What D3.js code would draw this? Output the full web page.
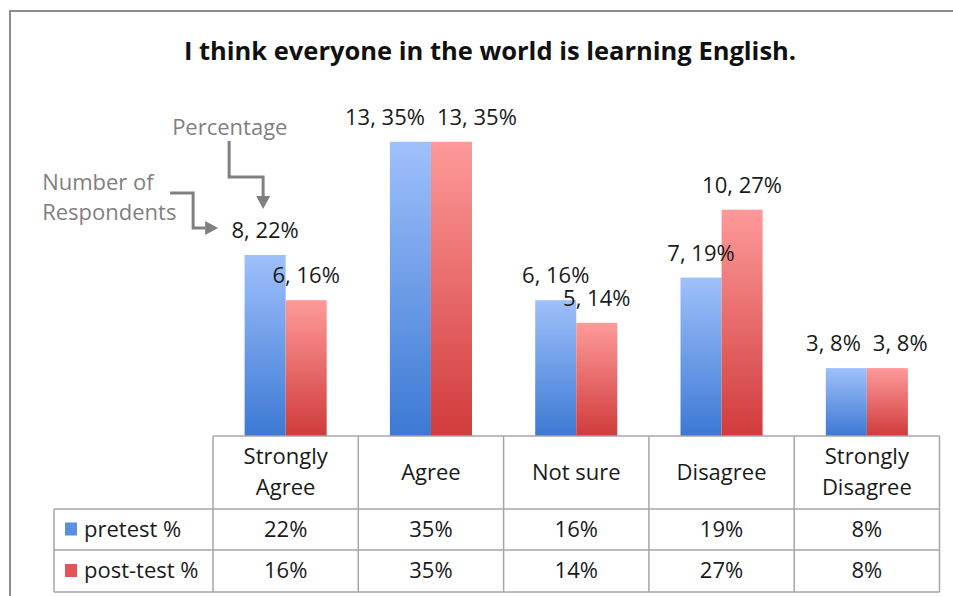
<!DOCTYPE html>
<html>
<head>
<meta charset="utf-8">
<script src="https://cdn.jsdelivr.net/npm/d3@7"></script>
<style>
  html, body { margin: 0; padding: 0; background: #fff; }
  svg { display: block; }
  text { font-family: "Open Sans", "Noto Sans", sans-serif; }
</style>
</head>
<body>
<svg id="chart" width="953" height="596"></svg>
<script>
// Survey item and response categories
const title = "I think everyone in the world is learning English.";
const categories = ["Strongly Agree", "Agree", "Not sure", "Disagree", "Strongly Disagree"];
const seriesNames = ["pretest %", "post-test %"];

// Number of respondents per category (37 respondents in total)
const totalRespondents = 37;
const pretestCounts = [8, 13, 6, 7, 3];
const posttestCounts = [6, 13, 5, 10, 3];

// Rounded percentages shown in labels and the data table
const pretestPct = [22, 35, 16, 19, 8];
const posttestPct = [16, 35, 14, 27, 8];

const svg = d3.select("#chart");
const W = 953, H = 596;

// Layout
const tableLeft = 213, tableRight = 939.5;
const legendLeft = 54;
const baseY = 436;                 // top of the data table = bar baseline
const rowLines = [436, 509, 550, 592];
const plotTop = 101;

const x = d3.scaleBand().domain(categories).range([tableLeft, tableRight]).paddingInner(0).paddingOuter(0);
const xs = d3.scaleBand().domain(seriesNames).range([0, x.bandwidth()]).paddingInner(0).paddingOuter(0.77);
const y = d3.scaleLinear().domain([0, 0.40]).range([baseY, plotTop]);

const fontSize = 22;
const gray = "#808080";

// Gradients for the bars (light at the top, deeper at the base)
const defs = svg.append("defs");
const gradStops = [
  ["gradPre", "#9fc0fa", "#3c79d4"],
  ["gradPost", "#fe9a9a", "#d13b3b"]
];
gradStops.forEach(([id, top, bottom]) => {
  const g = defs.append("linearGradient").attr("id", id)
    .attr("x1", 0).attr("y1", 0).attr("x2", 0).attr("y2", 1);
  g.append("stop").attr("offset", "0%").attr("stop-color", top);
  g.append("stop").attr("offset", "100%").attr("stop-color", bottom);
});
const fills = ["url(#gradPre)", "url(#gradPost)"];
const swatchFills = ["#5b8fe0", "#e05656"];

// Outer frame of the chart area
svg.append("path")
  .attr("d", `M10,${H} V11 H${W}`)
  .attr("fill", "none").attr("stroke", "#8c8c8c").attr("stroke-width", 2);

// Title
svg.append("text")
  .attr("x", 490).attr("y", 60)
  .attr("text-anchor", "middle")
  .attr("font-size", 25.5).attr("font-weight", "bold").attr("fill", "#111")
  .text(title);

// Build the bar records
const series = [
  { name: seriesNames[0], counts: pretestCounts, pct: pretestPct },
  { name: seriesNames[1], counts: posttestCounts, pct: posttestPct }
];
const bars = [];
categories.forEach((c, i) => {
  series.forEach((s, j) => {
    bars.push({
      cat: c, si: j, count: s.counts[i], pct: s.pct[i],
      x: x(c) + xs(s.name), w: xs.bandwidth(),
      top: y(s.counts[i] / totalRespondents)
    });
  });
});

// Bars
svg.append("g").selectAll("rect").data(bars).join("rect")
  .attr("x", d => d.x).attr("y", d => d.top)
  .attr("width", d => d.w).attr("height", d => baseY - d.top)
  .attr("fill", d => fills[d.si]);

// Data labels: "count, percent%" above each bar
const labelG = svg.append("g");
const labels = labelG.selectAll("text").data(bars).join("text")
  .attr("font-size", fontSize).attr("fill", "#1a1a1a")
  .attr("text-anchor", "middle")
  .attr("y", d => d.top - 17)
  .text(d => `${d.count}, ${d.pct}%`);

// Spread apart labels of the same category that sit at the same height and collide
labels.each(function (d) { d.lw = this.getComputedTextLength(); d.lx = d.x + d.w / 2; });
const labelGap = 12;
categories.forEach(c => {
  const pair = bars.filter(b => b.cat === c);
  const [a, b] = pair;
  if (Math.abs(a.top - b.top) < 20) {
    const need = (a.lw + b.lw) / 2 + labelGap - (b.lx - a.lx);
    if (need > 0) { a.lx -= need / 2; b.lx += need / 2; }
  }
});
labels.attr("x", d => d.lx);

// Annotations explaining the label format, anchored to the first label
const first = bars[0];
const ax = first.lx, ay = first.top - 17;
const ann = svg.append("g").attr("fill", gray);
ann.append("text").attr("x", ax - 93).attr("y", ay - 103).attr("font-size", fontSize).text("Percentage");
ann.append("text").attr("x", ax - 223).attr("y", ay - 48).attr("font-size", fontSize).text("Number of");
ann.append("text").attr("x", ax - 223).attr("y", ay - 18).attr("font-size", fontSize).text("Respondents");

const arrowPaths = [
  { pts: [[ax - 36, ay - 97], [ax - 36, ay - 61], [ax - 2, ay - 61], [ax - 2, ay - 42]], dir: "down" },
  { pts: [[ax - 95, ay - 45], [ax - 72, ay - 45], [ax - 72, ay - 10], [ax - 60, ay - 10]], dir: "right" }
];
const line = d3.line();
arrowPaths.forEach(a => {
  ann.append("path").attr("d", line(a.pts))
    .attr("fill", "none").attr("stroke", gray).attr("stroke-width", 3);
  const [tx, ty] = a.pts[a.pts.length - 1];
  const head = a.dir === "down"
    ? [[tx - 7, ty], [tx + 7, ty], [tx, ty + 13]]
    : [[tx, ty - 7], [tx, ty + 7], [tx + 13, ty]];
  ann.append("path").attr("d", line(head) + "Z").attr("stroke", "none");
});

// Data table below the bars
const tbl = svg.append("g").attr("stroke", "#a6a6a6").attr("stroke-width", 1.5);
// horizontal rules
tbl.append("line").attr("x1", tableLeft).attr("x2", tableRight).attr("y1", rowLines[0]).attr("y2", rowLines[0]);
[rowLines[1], rowLines[2], rowLines[3]].forEach(yy =>
  tbl.append("line").attr("x1", legendLeft).attr("x2", tableRight).attr("y1", yy).attr("y2", yy));
// vertical rules
x.domain().forEach(c =>
  tbl.append("line").attr("x1", x(c)).attr("x2", x(c)).attr("y1", rowLines[0]).attr("y2", rowLines[3]));
tbl.append("line").attr("x1", tableRight).attr("x2", tableRight).attr("y1", rowLines[0]).attr("y2", rowLines[3]);
tbl.append("line").attr("x1", legendLeft).attr("x2", legendLeft).attr("y1", rowLines[1]).attr("y2", rowLines[3]);

const txt = svg.append("g").attr("font-size", fontSize).attr("fill", "#1a1a1a");

// Category headers, wrapped when wider than the column
categories.forEach(c => {
  const cx = x(c) + x.bandwidth() / 2;
  const t = txt.append("text").attr("text-anchor", "middle").text(c);
  let lines = [c];
  if (t.node().getComputedTextLength() > x.bandwidth() - 14) {
    const words = c.split(" ");
    lines = [words[0], words.slice(1).join(" ")];
  }
  t.text(null);
  const mid = (rowLines[0] + rowLines[1]) / 2;
  const lh = 31;
  lines.forEach((ln, k) => {
    t.append("tspan").attr("x", cx)
      .attr("y", mid + 7 + (k - (lines.length - 1) / 2) * lh)
      .text(ln);
  });
});

// Series rows: legend key + percentages
series.forEach((s, j) => {
  const mid = (rowLines[j + 1] + rowLines[j + 2]) / 2;
  svg.append("rect").attr("x", 65).attr("y", mid - 7).attr("width", 12).attr("height", 13)
    .attr("fill", swatchFills[j]);
  txt.append("text").attr("x", 84).attr("y", mid + 7).text(s.name);
  categories.forEach((c, i) => {
    txt.append("text").attr("text-anchor", "middle")
      .attr("x", x(c) + x.bandwidth() / 2).attr("y", mid + 7)
      .text(`${s.pct[i]}%`);
  });
});
</script>
</body>
</html>
